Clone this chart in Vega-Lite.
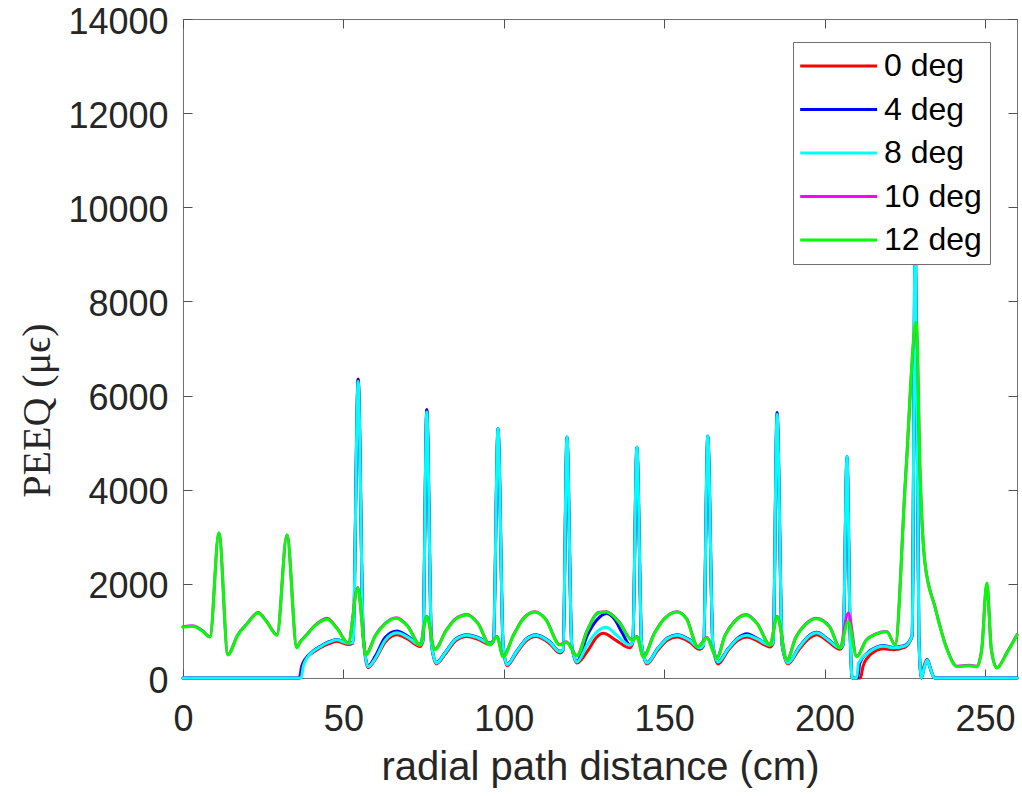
{
  "$schema": "https://vega.github.io/schema/vega-lite/v6.json",
  "width": 834,
  "height": 659,
  "autosize": "none",
  "padding": {"left": 183, "top": 19, "right": 5, "bottom": 118},
  "background": "white",
  "config": {
    "view": {"stroke": "#707070", "strokeWidth": 1},
    "axis": {"grid": false, "domain": false, "tickColor": "#505050", "tickSize": -9, "tickWidth": 1, "labelFlush": false, "format": "d",
      "labelFont": "Liberation Sans", "labelFontSize": 36, "labelColor": "#262626",
      "titleFont": "Liberation Sans", "titleFontSize": 40, "titleFontWeight": "normal", "titleColor": "#262626"},
    "line": {"strokeWidth": 3, "strokeJoin": "round", "strokeCap": "round", "interpolate": "monotone"}
  },
  "datasets": {
    "d0": [
      {"x":0,"y":0},{"x":36.2,"y":0},{"x":37,"y":250},{"x":38.3,"y":420},{"x":40.5,"y":540},{"x":42.7,"y":640},{"x":45.5,"y":730},{"x":48,"y":780},{"x":51.4,"y":710},{"x":53,"y":740},{"x":54.6,"y":6350},{"x":56.2,"y":880},{"x":57.7,"y":220},{"x":60,"y":400},{"x":63,"y":760},{"x":66.7,"y":920},{"x":70,"y":830},{"x":73.9,"y":670},{"x":74.8,"y":780},{"x":76,"y":5700},{"x":77.5,"y":680},{"x":79,"y":300},{"x":82,"y":530},{"x":85,"y":790},{"x":88.5,"y":880},{"x":92,"y":820},{"x":95.7,"y":710},{"x":96.8,"y":780},{"x":98.2,"y":5280},{"x":99.8,"y":680},{"x":101,"y":260},{"x":104,"y":530},{"x":107,"y":790},{"x":110,"y":880},{"x":114,"y":750},{"x":117.5,"y":530},{"x":118.5,"y":580},{"x":119.7,"y":5100},{"x":121.2,"y":680},{"x":122.8,"y":320},{"x":126,"y":560},{"x":129,"y":870},{"x":131,"y":950},{"x":135,"y":800},{"x":139.3,"y":640},{"x":140.2,"y":740},{"x":141.5,"y":4880},{"x":143,"y":680},{"x":144.6,"y":300},{"x":148,"y":590},{"x":151,"y":800},{"x":154,"y":870},{"x":158,"y":760},{"x":161,"y":610},{"x":162.3,"y":680},{"x":163.6,"y":5120},{"x":165.2,"y":680},{"x":166.8,"y":300},{"x":170,"y":590},{"x":173,"y":800},{"x":175.8,"y":870},{"x":179,"y":790},{"x":183,"y":660},{"x":184,"y":740},{"x":185.2,"y":5580},{"x":186.8,"y":680},{"x":188.6,"y":300},{"x":192,"y":600},{"x":195,"y":830},{"x":197.6,"y":920},{"x":201,"y":780},{"x":204.8,"y":610},{"x":205.8,"y":700},{"x":207,"y":4680},{"x":208,"y":880},{"x":208.6,"y":0},{"x":211.2,"y":0},{"x":212,"y":250},{"x":213.5,"y":440},{"x":216,"y":580},{"x":218.3,"y":620},{"x":221.5,"y":600},{"x":225,"y":650},{"x":227.3,"y":880},{"x":228.3,"y":9500},{"x":229.4,"y":880},{"x":230.2,"y":0},{"x":231,"y":250},{"x":232,"y":400},{"x":233.5,"y":100},{"x":234.5,"y":0},{"x":260,"y":0}
    ],
    "d4": [
      {"x":0,"y":0},{"x":36.5,"y":0},{"x":37.2,"y":260},{"x":38.5,"y":430},{"x":40.5,"y":570},{"x":42.7,"y":670},{"x":45.5,"y":770},{"x":48,"y":820},{"x":51.4,"y":750},{"x":53,"y":760},{"x":54.6,"y":6340},{"x":56.2,"y":900},{"x":57.7,"y":260},{"x":60,"y":470},{"x":63,"y":860},{"x":66.7,"y":1000},{"x":70,"y":890},{"x":73.9,"y":710},{"x":74.8,"y":800},{"x":76,"y":5700},{"x":77.5,"y":700},{"x":79,"y":330},{"x":82,"y":570},{"x":85,"y":830},{"x":88.5,"y":920},{"x":92,"y":860},{"x":95.7,"y":750},{"x":96.8,"y":800},{"x":98.2,"y":5300},{"x":99.8,"y":700},{"x":101,"y":290},{"x":104,"y":570},{"x":107,"y":830},{"x":110,"y":920},{"x":114,"y":790},{"x":117.5,"y":570},{"x":118.5,"y":600},{"x":119.7,"y":5120},{"x":121.2,"y":700},{"x":122.8,"y":350},{"x":126,"y":900},{"x":129,"y":1230},{"x":132,"y":1370},{"x":134.5,"y":1250},{"x":137,"y":950},{"x":139.3,"y":710},{"x":140.2,"y":760},{"x":141.5,"y":4900},{"x":143,"y":700},{"x":144.6,"y":330},{"x":148,"y":630},{"x":151,"y":850},{"x":154,"y":920},{"x":158,"y":810},{"x":161,"y":650},{"x":162.3,"y":700},{"x":163.6,"y":5140},{"x":165.2,"y":700},{"x":166.8,"y":350},{"x":170,"y":630},{"x":173,"y":850},{"x":175.8,"y":940},{"x":179,"y":840},{"x":183,"y":710},{"x":184,"y":770},{"x":185.2,"y":5640},{"x":186.8,"y":700},{"x":188.6,"y":330},{"x":192,"y":650},{"x":195,"y":890},{"x":197.6,"y":970},{"x":201,"y":830},{"x":204.8,"y":650},{"x":205.8,"y":720},{"x":207,"y":4700},{"x":208,"y":900},{"x":208.6,"y":0},{"x":210.3,"y":0},{"x":211,"y":320},{"x":213.5,"y":540},{"x":216,"y":650},{"x":218.3,"y":690},{"x":221.5,"y":650},{"x":225,"y":690},{"x":227.3,"y":900},{"x":228.3,"y":9600},{"x":229.4,"y":900},{"x":230.2,"y":0},{"x":231,"y":200},{"x":232,"y":390},{"x":233,"y":200},{"x":234.3,"y":0},{"x":260,"y":0}
    ],
    "d8": [
      {"x":0,"y":0},{"x":36.8,"y":0},{"x":37.5,"y":250},{"x":38.6,"y":420},{"x":40.5,"y":560},{"x":42.7,"y":660},{"x":45.5,"y":760},{"x":48,"y":810},{"x":51.4,"y":740},{"x":53,"y":750},{"x":54.6,"y":6300},{"x":56.2,"y":880},{"x":57.7,"y":240},{"x":60,"y":420},{"x":63,"y":800},{"x":66.7,"y":960},{"x":70,"y":870},{"x":73.9,"y":700},{"x":74.8,"y":800},{"x":76,"y":5650},{"x":77.5,"y":700},{"x":79,"y":320},{"x":82,"y":560},{"x":85,"y":820},{"x":88.5,"y":910},{"x":92,"y":850},{"x":95.7,"y":740},{"x":96.8,"y":800},{"x":98.2,"y":5300},{"x":99.8,"y":700},{"x":101,"y":280},{"x":104,"y":560},{"x":107,"y":820},{"x":110,"y":910},{"x":114,"y":780},{"x":117.5,"y":560},{"x":118.5,"y":600},{"x":119.7,"y":5120},{"x":121.2,"y":700},{"x":122.8,"y":340},{"x":126,"y":700},{"x":129,"y":980},{"x":132,"y":1080},{"x":135,"y":920},{"x":139.3,"y":700},{"x":140.2,"y":760},{"x":141.5,"y":4900},{"x":143,"y":700},{"x":144.6,"y":320},{"x":148,"y":620},{"x":151,"y":840},{"x":154,"y":910},{"x":158,"y":800},{"x":161,"y":640},{"x":162.3,"y":700},{"x":163.6,"y":5140},{"x":165.2,"y":700},{"x":166.8,"y":340},{"x":170,"y":620},{"x":173,"y":840},{"x":175.8,"y":910},{"x":179,"y":830},{"x":183,"y":700},{"x":184,"y":760},{"x":185.2,"y":5600},{"x":186.8,"y":700},{"x":188.6,"y":320},{"x":192,"y":640},{"x":195,"y":880},{"x":197.6,"y":960},{"x":201,"y":820},{"x":204.8,"y":640},{"x":205.8,"y":720},{"x":207,"y":4700},{"x":208,"y":900},{"x":208.6,"y":0},{"x":210,"y":0},{"x":210.6,"y":320},{"x":213.5,"y":530},{"x":216,"y":640},{"x":218.3,"y":680},{"x":221.5,"y":640},{"x":225,"y":680},{"x":227.3,"y":900},{"x":228.3,"y":9600},{"x":229.4,"y":900},{"x":230.2,"y":0},{"x":231,"y":200},{"x":232,"y":380},{"x":233,"y":200},{"x":234.3,"y":0},{"x":260,"y":0}
    ],
    "d10": [
      {"x":0,"y":1090},{"x":3,"y":1110},{"x":6,"y":1010},{"x":8.4,"y":880},{"x":11.2,"y":3080},{"x":14,"y":500},{"x":17,"y":910},{"x":20,"y":1160},{"x":23.4,"y":1390},{"x":26,"y":1210},{"x":29.3,"y":920},{"x":32.4,"y":3040},{"x":35.5,"y":650},{"x":36.5,"y":770},{"x":38,"y":880},{"x":41,"y":1110},{"x":44.9,"y":1270},{"x":48,"y":1060},{"x":51.5,"y":750},{"x":54.5,"y":1920},{"x":57,"y":500},{"x":60,"y":910},{"x":63,"y":1160},{"x":66.5,"y":1280},{"x":70,"y":1110},{"x":73.9,"y":710},{"x":76,"y":1310},{"x":78.5,"y":610},{"x":82,"y":1010},{"x":85,"y":1260},{"x":88.5,"y":1350},{"x":92,"y":1160},{"x":95.7,"y":710},{"x":97.9,"y":880},{"x":99.8,"y":460},{"x":103,"y":910},{"x":106,"y":1260},{"x":109.7,"y":1410},{"x":113,"y":1260},{"x":117.5,"y":710},{"x":119.5,"y":770},{"x":122.8,"y":480},{"x":126,"y":1010},{"x":129.4,"y":1390},{"x":132,"y":1410},{"x":136,"y":1190},{"x":140,"y":810},{"x":141.5,"y":880},{"x":143.5,"y":460},{"x":147,"y":960},{"x":150,"y":1260},{"x":154,"y":1410},{"x":157,"y":1260},{"x":160.5,"y":670},{"x":163.3,"y":860},{"x":166.4,"y":430},{"x":169,"y":910},{"x":172,"y":1210},{"x":175.5,"y":1350},{"x":179,"y":1160},{"x":183,"y":710},{"x":185.2,"y":1310},{"x":188.3,"y":390},{"x":191,"y":860},{"x":194,"y":1140},{"x":197.3,"y":1270},{"x":201.6,"y":1090},{"x":204.8,"y":650},{"x":207.4,"y":1380},{"x":210,"y":460},{"x":213,"y":810},{"x":216,"y":940},{"x":219.4,"y":990},{"x":222,"y":710},{"x":225.3,"y":4300},{"x":228.6,"y":7500},{"x":229.8,"y":4300},{"x":231.3,"y":2450},{"x":234.4,"y":1520},{"x":238,"y":650},{"x":241.3,"y":250},{"x":245,"y":270},{"x":247.5,"y":250},{"x":249,"y":610},{"x":250.6,"y":2000},{"x":252,"y":610},{"x":253.7,"y":220},{"x":257,"y":560},{"x":260,"y":920}
    ],
    "d12": [
      {"x":0,"y":1080},{"x":3,"y":1100},{"x":6,"y":1000},{"x":8.4,"y":870},{"x":11.2,"y":3080},{"x":14,"y":490},{"x":17,"y":900},{"x":20,"y":1150},{"x":23.4,"y":1380},{"x":26,"y":1200},{"x":29.3,"y":910},{"x":32.4,"y":3040},{"x":35.5,"y":640},{"x":36.5,"y":760},{"x":38,"y":870},{"x":41,"y":1100},{"x":44.9,"y":1250},{"x":48,"y":1050},{"x":51.5,"y":740},{"x":54.5,"y":1910},{"x":57,"y":490},{"x":60,"y":900},{"x":63,"y":1150},{"x":66.5,"y":1270},{"x":70,"y":1100},{"x":73.9,"y":700},{"x":76,"y":1300},{"x":78.5,"y":600},{"x":82,"y":1000},{"x":85,"y":1250},{"x":88.5,"y":1340},{"x":92,"y":1150},{"x":95.7,"y":700},{"x":97.9,"y":870},{"x":99.8,"y":450},{"x":103,"y":900},{"x":106,"y":1250},{"x":109.7,"y":1400},{"x":113,"y":1250},{"x":117.5,"y":700},{"x":119.5,"y":760},{"x":122.8,"y":470},{"x":126,"y":1000},{"x":129.4,"y":1380},{"x":132,"y":1400},{"x":136,"y":1180},{"x":140,"y":800},{"x":141.5,"y":870},{"x":143.5,"y":450},{"x":147,"y":950},{"x":150,"y":1250},{"x":154,"y":1400},{"x":157,"y":1250},{"x":160.5,"y":660},{"x":163.3,"y":850},{"x":166.4,"y":420},{"x":169,"y":900},{"x":172,"y":1200},{"x":175.5,"y":1340},{"x":179,"y":1150},{"x":183,"y":700},{"x":185.2,"y":1300},{"x":188.3,"y":380},{"x":191,"y":850},{"x":194,"y":1130},{"x":197.3,"y":1260},{"x":201.6,"y":1080},{"x":204.8,"y":640},{"x":207.4,"y":1200},{"x":210,"y":450},{"x":213,"y":800},{"x":216,"y":930},{"x":219.4,"y":980},{"x":222,"y":700},{"x":225.3,"y":4300},{"x":228.6,"y":7560},{"x":229.8,"y":4300},{"x":231.3,"y":2440},{"x":234.4,"y":1510},{"x":238,"y":640},{"x":241.3,"y":240},{"x":245,"y":260},{"x":247.5,"y":240},{"x":249,"y":600},{"x":250.6,"y":2020},{"x":252,"y":600},{"x":253.7,"y":210},{"x":257,"y":550},{"x":260,"y":910}
    ]
  },
  "encoding": {
    "x": {"field": "x", "type": "quantitative", "scale": {"domain": [0, 260], "nice": false, "zero": false}},
    "y": {"field": "y", "type": "quantitative", "scale": {"domain": [0, 14000], "nice": false}}
  },
  "resolve": {"axis": {"x": "independent", "y": "independent"}},
  "layer": [
    {
      "encoding": {
        "x": {"field": "x", "type": "quantitative",
          "axis": {"orient": "bottom", "title": "radial path distance (cm)", "values": [0, 50, 100, 150, 200, 250], "labelPadding": 33, "titlePadding": 10}},
        "y": {"field": "y", "type": "quantitative",
          "axis": {"orient": "left", "title": "PEEQ (μϵ)", "titleFont": "Liberation Serif", "titleY": 391, "values": [0, 2000, 4000, 6000, 8000, 10000, 12000, 14000], "labelPadding": 24, "labelOffset": 3, "titlePadding": 10}}
      },
      "layer": [
        {"data": {"name": "d0"}, "mark": {"type": "line", "strokeWidth": 3},
          "encoding": {"color": {"datum": "0 deg", "type": "nominal",
            "scale": {"domain": ["0 deg", "4 deg", "8 deg", "10 deg", "12 deg"], "range": ["#ff0000", "#0000ff", "#00ffff", "#ff00ff", "#00ff00"]},
            "legend": {"title": null, "orient": "none", "legendX": 610, "legendY": 23, "symbolType": "M-1.75,0H6.25", "symbolSize": 370, "symbolStrokeWidth": 3,
              "labelFont": "Liberation Sans", "labelFontSize": 32, "labelColor": "#000000", "labelOffset": 51, "fillColor": "#ffffff", "strokeColor": "#707070",
              "padding": 8, "rowPadding": 11.5}}}},
        {"data": {"name": "d4"}, "mark": {"type": "line", "strokeWidth": 3}, "encoding": {"color": {"datum": "4 deg", "type": "nominal"}}},
        {"data": {"name": "d8"}, "mark": {"type": "line", "strokeWidth": 3}, "encoding": {"color": {"datum": "8 deg", "type": "nominal"}}},
        {"data": {"name": "d10"}, "mark": {"type": "line", "strokeWidth": 3}, "encoding": {"color": {"datum": "10 deg", "type": "nominal"}}},
        {"data": {"name": "d12"}, "mark": {"type": "line", "strokeWidth": 3}, "encoding": {"color": {"datum": "12 deg", "type": "nominal"}}}
      ]
    },
    {"data": {"name": "d0"}, "mark": {"type": "point", "opacity": 0},
      "encoding": {
        "x": {"field": "x", "type": "quantitative", "axis": {"orient": "top", "labels": false, "title": null, "values": [0, 50, 100, 150, 200, 250]}},
        "y": {"field": "y", "type": "quantitative", "axis": {"orient": "right", "labels": false, "title": null, "values": [0, 2000, 4000, 6000, 8000, 10000, 12000, 14000]}}}}
  ]
}
